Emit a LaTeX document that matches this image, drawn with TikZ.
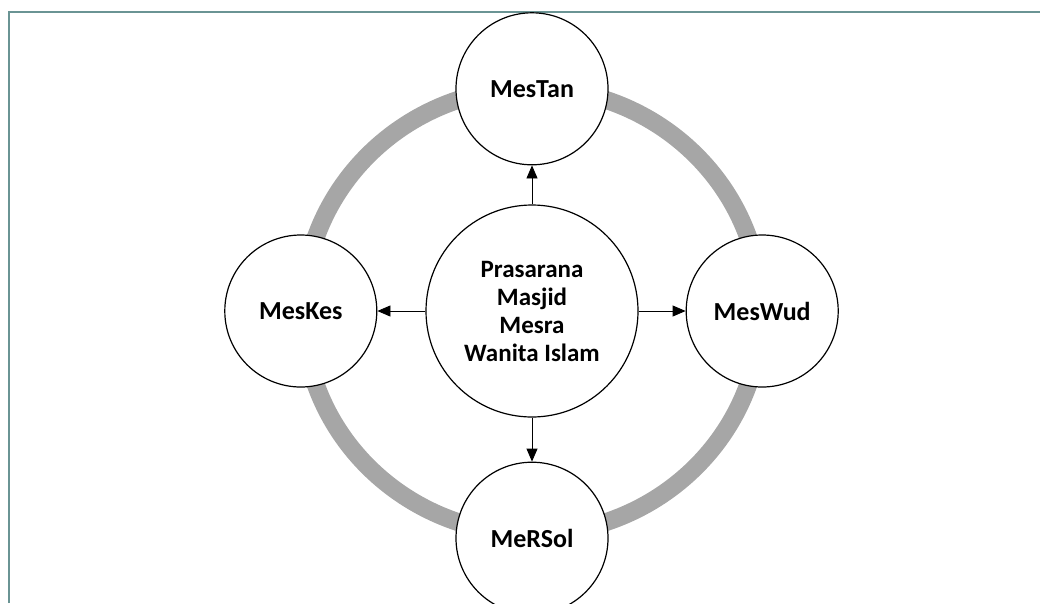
\documentclass[tikz,border=0pt]{standalone}
\usepackage{fontspec}
\setmainfont{Carlito}
\usetikzlibrary{arrows.meta,positioning}
\definecolor{RingGray}{HTML}{A6A6A6}
\definecolor{FrameTeal}{HTML}{6A9494}

\begin{document}
\begin{tikzpicture}[x=1pt,y=-1pt,
  hub/.style={draw=black,circle,fill=white,line width=1.2pt,minimum size=212pt,inner sep=0pt,align=center,font=\bfseries\fontsize{25}{28}\selectfont},
  state/.style={draw=black,circle,fill=white,line width=1.2pt,minimum size=152pt,inner sep=0pt,font=\bfseries\fontsize{26}{28}\selectfont},
  ring/.style={draw=RingGray,line width=18pt},
  arr/.style={-{Triangle[length=13pt,width=11pt]},draw=black,line width=0.8pt}
]
\useasboundingbox (0,0) rectangle (1040,603);
\draw[FrameTeal,line width=1.5pt] (9,603) |- (1040,12);
\coordinate (mid) at (532,311);
\draw[ring] (mid) ellipse [x radius=229pt,y radius=223pt];
\node[hub] (c) at (mid) {Prasarana\\Masjid\\Mesra\\Wanita Islam};
\node[state,above=39pt of c] (tan) {MesTan};
\node[state,left=48pt of c] (kes) {MesKes};
\node[state,right=47pt of c] (wud) {MesWud};
\node[state,below=44pt of c] (sol) {MeRSol};
\draw[arr] (c) -- (tan);
\draw[arr] (c) -- (kes);
\draw[arr] (c) -- (wud);
\draw[arr] (c) -- (sol);
\end{tikzpicture}
\end{document}
